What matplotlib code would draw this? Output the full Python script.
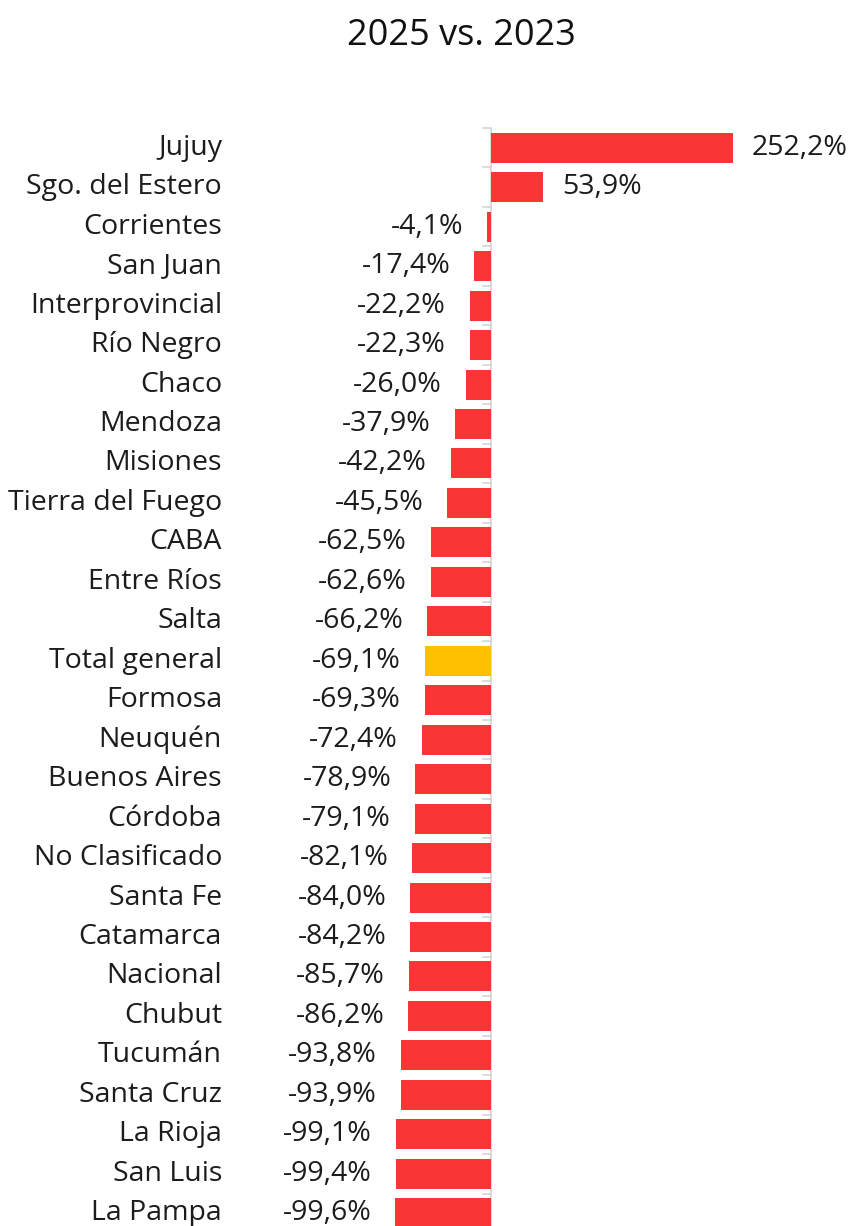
import matplotlib
matplotlib.use("Agg")
import matplotlib.pyplot as plt
import matplotlib.transforms as mtransforms
import numpy as np

plt.rcParams["font.family"] = ["Open Sans", "DejaVu Sans"]

categories = [
    "Jujuy", "Sgo. del Estero", "Corrientes", "San Juan", "Interprovincial",
    "Río Negro", "Chaco", "Mendoza", "Misiones", "Tierra del Fuego", "CABA",
    "Entre Ríos", "Salta", "Total general", "Formosa", "Neuquén",
    "Buenos Aires", "Córdoba", "No Clasificado", "Santa Fe", "Catamarca",
    "Nacional", "Chubut", "Tucumán", "Santa Cruz", "La Rioja", "San Luis",
    "La Pampa",
]
changes = [
    252.2, 53.9, -4.1, -17.4, -22.2, -22.3, -26.0, -37.9, -42.2, -45.5,
    -62.5, -62.6, -66.2, -69.1, -69.3, -72.4, -78.9, -79.1, -82.1, -84.0,
    -84.2, -85.7, -86.2, -93.8, -93.9, -99.1, -99.4, -99.6,
]
highlight = "Total general"

RED = "#F83636"
GOLD = "#FFC000"
TEXT = "#1c1c1c"

W, H = 863, 1226
fig = plt.figure(figsize=(W / 100, H / 100), dpi=100)
# axes spans full width; top at y=128px, bottom slightly below the image edge
top_px, bot_px = 128, 1233
ax = fig.add_axes([0, 1 - bot_px / H, 1, (bot_px - top_px) / H])

px_per_unit = 0.9595
zero_px = 491
ax.set_xlim(-zero_px / px_per_unit, (W - zero_px) / px_per_unit)
ax.set_ylim(len(categories) - 0.5, -0.5)

y = np.arange(len(categories))
colors = [GOLD if c == highlight else RED for c in categories]
ax.barh(y, changes, height=0.76, color=colors, zorder=2)

for sp in ax.spines.values():
    sp.set_visible(False)
ax.axvline(0, color="#d4d4d4", lw=1.2, zorder=1)
ax.set_xticks([])
ax.set_yticks([])
for edge in np.arange(len(categories) + 1) - 0.5:
    ax.plot([-8 / px_per_unit, 0], [edge, edge], color="#d4d4d4", lw=1.2,
            zorder=1, clip_on=False)

fs = 20.5
trans = mtransforms.blended_transform_factory(fig.transFigure, ax.transData)
for yi, name, v in zip(y, categories, changes):
    ax.text(222 / W, yi, name, transform=trans, ha="right", va="center",
            fontsize=fs, color=TEXT)
    label = f"{v:.1f}%".replace(".", ",")
    if v >= 0:
        ax.annotate(label, (v, yi), xytext=(19, 0), textcoords="offset pixels",
                    ha="left", va="center", fontsize=fs, color=TEXT)
    else:
        ax.annotate(label, (v, yi), xytext=(-24, 0), textcoords="offset pixels",
                    ha="right", va="center", fontsize=fs, color=TEXT)

fig.text(461 / W, 1 - 36 / H, "2025 vs. 2023", ha="center", va="center",
         fontsize=26, color="#111111", fontweight="medium")

fig.savefig("out.png", dpi=100)
